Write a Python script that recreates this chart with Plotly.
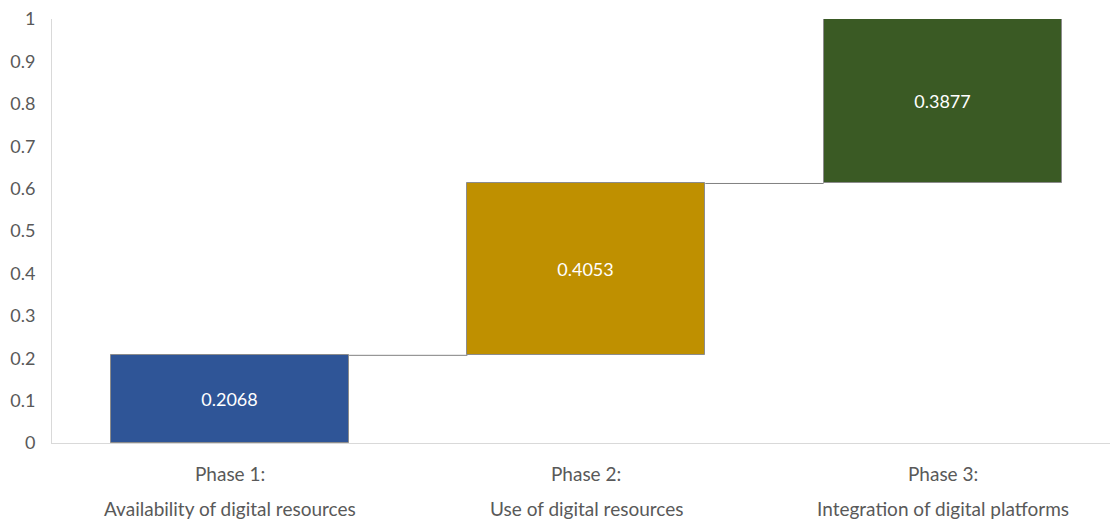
import plotly.graph_objects as go

phases = ["Phase 1:", "Phase 2:", "Phase 3:"]
descriptions = ["Availability of digital resources", "Use of digital resources", "Integration of digital platforms"]
values = [0.2068, 0.4053, 0.3877]
colors = ["#2F5597", "#BF9000", "#3A5A24"]
y_ticks = [0, 0.1, 0.2, 0.3, 0.4, 0.5, 0.6, 0.7, 0.8, 0.9, 1]
y_tick_labels = ["0", "0.1", "0.2", "0.3", "0.4", "0.5", "0.6", "0.7", "0.8", "0.9", "1"]

FONT = "Lato"
BAR_W = 0.668

xs = list(range(len(values)))
bases = []
cum = 0.0
for v in values:
    bases.append(cum)
    cum += v
tops = [b + v for b, v in zip(bases, values)]

fig = go.Figure()

# connectors
cx, cy = [], []
for i in range(len(values) - 1):
    cx += [xs[i] + BAR_W / 2, xs[i + 1] - BAR_W / 2, None]
    cy += [tops[i], tops[i], None]
fig.add_trace(go.Scatter(x=cx, y=cy, mode="lines",
                         line=dict(color="#808080", width=1),
                         hoverinfo="skip", showlegend=False))

fig.add_trace(go.Bar(
    x=xs, y=values, base=bases, width=BAR_W,
    marker=dict(color=colors, line=dict(color="#8c8c8c", width=1)),
    text=[f"{v:.4f}" for v in values],
    textposition="inside", insidetextanchor="middle",
    textfont=dict(family=FONT, size=18, color="white"),
    showlegend=False,
))

for x, p, d in zip(xs, phases, descriptions):
    fig.add_annotation(x=x, xref="x", y=0, yref="paper", yshift=-30,
                       text=p, showarrow=False, yanchor="middle",
                       font=dict(family=FONT, size=19, color="#595959"))
    fig.add_annotation(x=x, xref="x", y=0, yref="paper", yshift=-65,
                       text=d, showarrow=False, yanchor="middle",
                       font=dict(family=FONT, size=19, color="#595959"))

fig.update_layout(
    width=1110, height=519,
    margin=dict(l=52, r=0, t=19, b=76),
    plot_bgcolor="white", paper_bgcolor="white",
    bargap=0,
    xaxis=dict(range=[-0.5, 2.47], tickvals=xs, showticklabels=False,
               showgrid=False, zeroline=False, showline=True,
               linecolor="#d9d9d9", linewidth=1, fixedrange=True),
    yaxis=dict(range=[0, 1], tickvals=y_ticks, ticktext=y_tick_labels,
               showgrid=False, zeroline=False, showline=True,
               linecolor="#d9d9d9", linewidth=1, ticklabelstandoff=12,
               tickfont=dict(family=FONT, size=18, color="#595959")),
)

fig.write_html("out.html")
